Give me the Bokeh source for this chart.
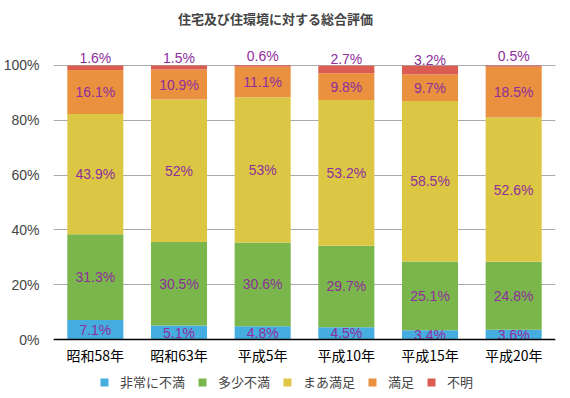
from bokeh.plotting import figure
from bokeh.models import (ColumnDataSource, LabelSet, Label, Legend, LegendItem,
                          PrintfTickFormatter, FixedTicker, Range1d, Span)
from bokeh.core.properties import value
from bokeh.embed import file_html
from bokeh.resources import INLINE

title_text = '住宅及び住環境に対する総合評価'
categories = ['昭和58年', '昭和63年', '平成5年', '平成10年', '平成15年', '平成20年']
series_names = ['非常に不満', '多少不満', 'まあ満足', '満足', '不明']
very_unsat = [7.1, 5.1, 4.8, 4.5, 3.4, 3.6]
some_unsat = [31.3, 30.5, 30.6, 29.7, 25.1, 24.8]
fairly_sat = [43.9, 52.0, 53.0, 53.2, 58.5, 52.6]
satisfied = [16.1, 10.9, 11.1, 9.8, 9.7, 18.5]
unknown = [1.6, 1.5, 0.6, 2.7, 3.2, 0.5]
y_ticks = [0, 20, 40, 60, 80, 100]

colors = ['#46ADE0', '#7AB64B', '#DCC744', '#E9913F', '#DB5D52']
series = [very_unsat, some_unsat, fairly_sat, satisfied, unknown]

# the frame covers the whole height so the title, top labels, category labels and legend stay visible
p = figure(x_range=categories, y_range=Range1d(-20.8, 123.72),
           frame_width=502, frame_height=396,
           output_backend="svg", toolbar_location=None,
           min_border_left=50, min_border_right=7, min_border_top=0, min_border_bottom=0)

p.add_layout(Label(x=222, y=378, x_units='screen', y_units='screen', text=title_text,
                   text_align='center', text_baseline='middle',
                   text_font='Noto Sans CJK JP', text_font_size='13px', text_font_style='bold'))

bottoms = [0.0] * len(categories)
items = []
for name, vals, col in zip(series_names, series, colors):
    tops = [b + v for b, v in zip(bottoms, vals)]
    mids = [(b + t) / 2 for b, t in zip(bottoms, tops)]
    src = ColumnDataSource(dict(x=categories, bottom=bottoms, top=tops, mid=mids,
                                lab=[('%g' % v) + '%' for v in vals]))
    r = p.vbar(x='x', bottom='bottom', top='top', width=0.67, source=src,
               fill_color=col, line_color=None)
    items.append(LegendItem(label=name, renderers=[r]))
    off = 10 if name == '不明' else 0
    p.add_layout(LabelSet(x='x', y='mid', text='lab', source=src, text_align='center',
                          text_baseline='middle', y_offset=off, text_color='#8E2F9C',
                          text_font=value('Liberation Sans'), text_font_size='14px'))
    bottoms = tops

# baseline (x axis line) and category labels
p.add_layout(Span(location=0, dimension='width', line_color='black', line_width=1.5))
cat_src = ColumnDataSource(dict(x=categories, y=[0] * len(categories), lab=categories))
p.add_layout(LabelSet(x='x', y='y', text='lab', source=cat_src, text_align='center',
                      text_baseline='middle', y_offset=-15, text_color='black',
                      text_font=value('Noto Sans CJK JP'), text_font_size='14px'))

legend = Legend(items=items, orientation='horizontal', location=(46, 5),
                border_line_color=None, background_fill_alpha=0,
                label_text_font='Noto Sans CJK JP', label_text_font_size='13px',
                glyph_width=10, glyph_height=10, label_standoff=11, spacing=12,
                label_height=16, padding=0, margin=0)
p.add_layout(legend)

p.xaxis.visible = False
p.xgrid.grid_line_color = None
p.ygrid.grid_line_color = '#AAAAAA'
p.ygrid.grid_line_width = 1
p.yaxis.ticker = FixedTicker(ticks=y_ticks)
p.yaxis.formatter = PrintfTickFormatter(format='%d%%')
p.yaxis.axis_line_color = None
p.yaxis.major_tick_line_color = None
p.yaxis.minor_tick_line_color = None
p.yaxis.major_tick_out = 0
p.yaxis.major_tick_in = 0
p.yaxis.major_label_text_font = 'Liberation Sans'
p.yaxis.major_label_text_font_size = '14px'
p.yaxis.major_label_standoff = 14
p.outline_line_color = None

open("out.html", "w").write(file_html(p, INLINE))
